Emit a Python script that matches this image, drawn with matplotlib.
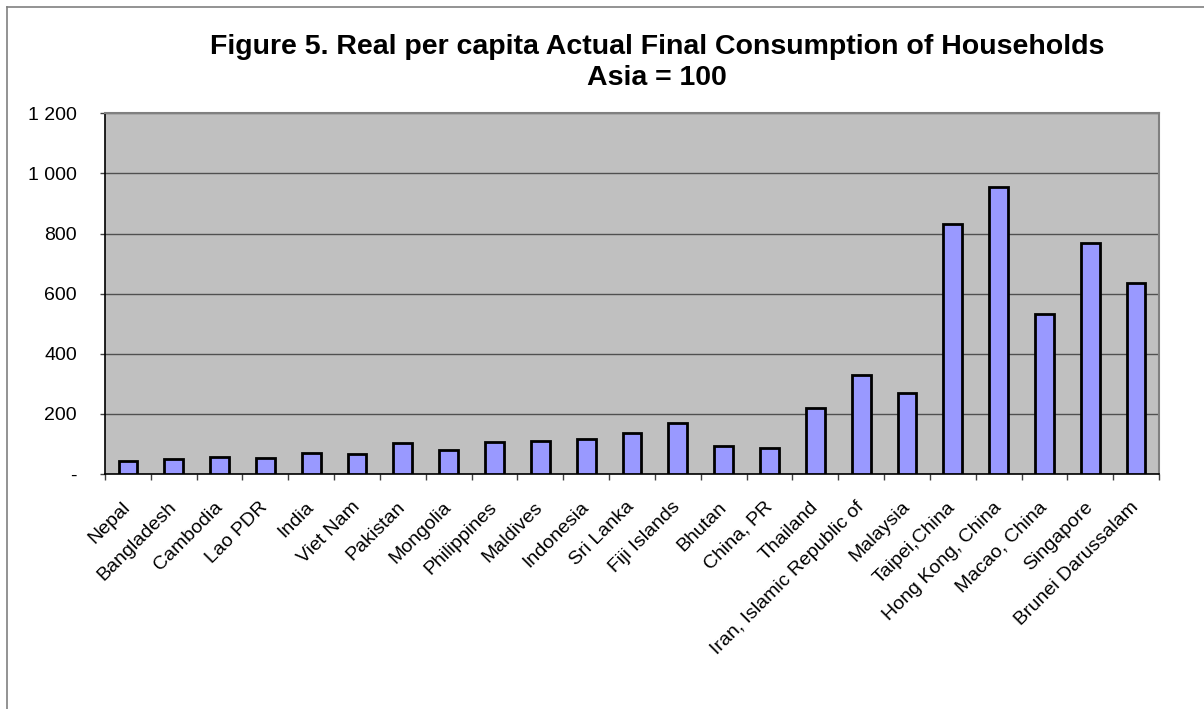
import matplotlib
matplotlib.use("Agg")
import matplotlib.pyplot as plt
from matplotlib.lines import Line2D
from matplotlib.ticker import FixedLocator, FuncFormatter
from matplotlib.transforms import ScaledTranslation

plt.rcParams['font.family'] = ['Liberation Sans', 'DejaVu Sans']

countries = ["Nepal", "Bangladesh", "Cambodia", "Lao PDR", "India", "Viet Nam",
             "Pakistan", "Mongolia", "Philippines", "Maldives", "Indonesia",
             "Sri Lanka", "Fiji Islands", "Bhutan", "China, PR", "Thailand",
             "Iran, Islamic Republic of", "Malaysia", "Taipei,China",
             "Hong Kong, China", "Macao, China", "Singapore", "Brunei Darussalam"]
values = [44, 49, 58, 54, 71, 65, 102, 80, 108, 110, 115, 135, 170, 94, 86,
          220, 328, 268, 833, 956, 531, 767, 634]
y_ticks = [0, 200, 400, 600, 800, 1000, 1200]

W, H = 1204, 709
fig = plt.figure(figsize=(W / 100, H / 100), dpi=100)
ax = fig.add_axes([105 / W, 1 - 474 / H, (1159 - 105) / W, (474 - 113.3) / H])

# outer chart-area frame (left and top edges visible)
fig.add_artist(Line2D([7 / W, 7 / W], [0, 1 - 7 / H], transform=fig.transFigure,
                      color="#808080", lw=1.2))
fig.add_artist(Line2D([7 / W, 1], [1 - 7 / H, 1 - 7 / H], transform=fig.transFigure,
                      color="#808080", lw=1.2))

x = range(len(countries))
ax.set_facecolor("#C0C0C0")
ax.bar(x, values, width=0.41, color="#9999FF", edgecolor="black", linewidth=2, zorder=3)

ax.set_xlim(-0.5, len(countries) - 0.5)
ax.set_ylim(0, 1200)

ax.yaxis.set_major_locator(FixedLocator(y_ticks))
ax.yaxis.set_major_formatter(FuncFormatter(
    lambda v, p: "-" if v == 0 else f"{int(v):,}".replace(",", " ")))
ax.grid(axis="y", color="#505050", linewidth=1, zorder=1)
ax.set_axisbelow(True)

# category ticks sit between bars, labels at bar centres
ax.set_xticks([i + 0.5 for i in range(-1, len(countries))], minor=False)
ax.set_xticklabels([])
ax.set_xticks(list(x), minor=True)
labels = ax.set_xticklabels(countries, minor=True, rotation=45, ha="right", va="center",
                            rotation_mode="anchor", fontsize=14)
shift = ScaledTranslation(4 / 100, 0, fig.dpi_scale_trans)
for lab in labels:
    lab.set_transform(lab.get_transform() + shift)
ax.tick_params(axis="x", which="minor", length=0, pad=22)
ax.tick_params(axis="x", which="major", length=4.5, width=1, color="#404040", direction="out")
ax.tick_params(axis="y", length=3.6, width=1, color="#404040", labelsize=14, pad=16.5)

for s in ("top", "right"):
    ax.spines[s].set_color("#808080")
    ax.spines[s].set_linewidth(1.5)
for s in ("left", "bottom"):
    ax.spines[s].set_color("black")
    ax.spines[s].set_linewidth(1.2)

fig.text(657 / W, 1 - 47 / H, "Figure 5. Real per capita Actual Final Consumption of Households",
         ha="center", va="center", fontsize=20.5, fontweight="bold")
fig.text(657 / W, 1 - 78 / H, "Asia = 100", ha="center", va="center",
         fontsize=20.5, fontweight="bold")

fig.savefig("out.png", dpi=100)
